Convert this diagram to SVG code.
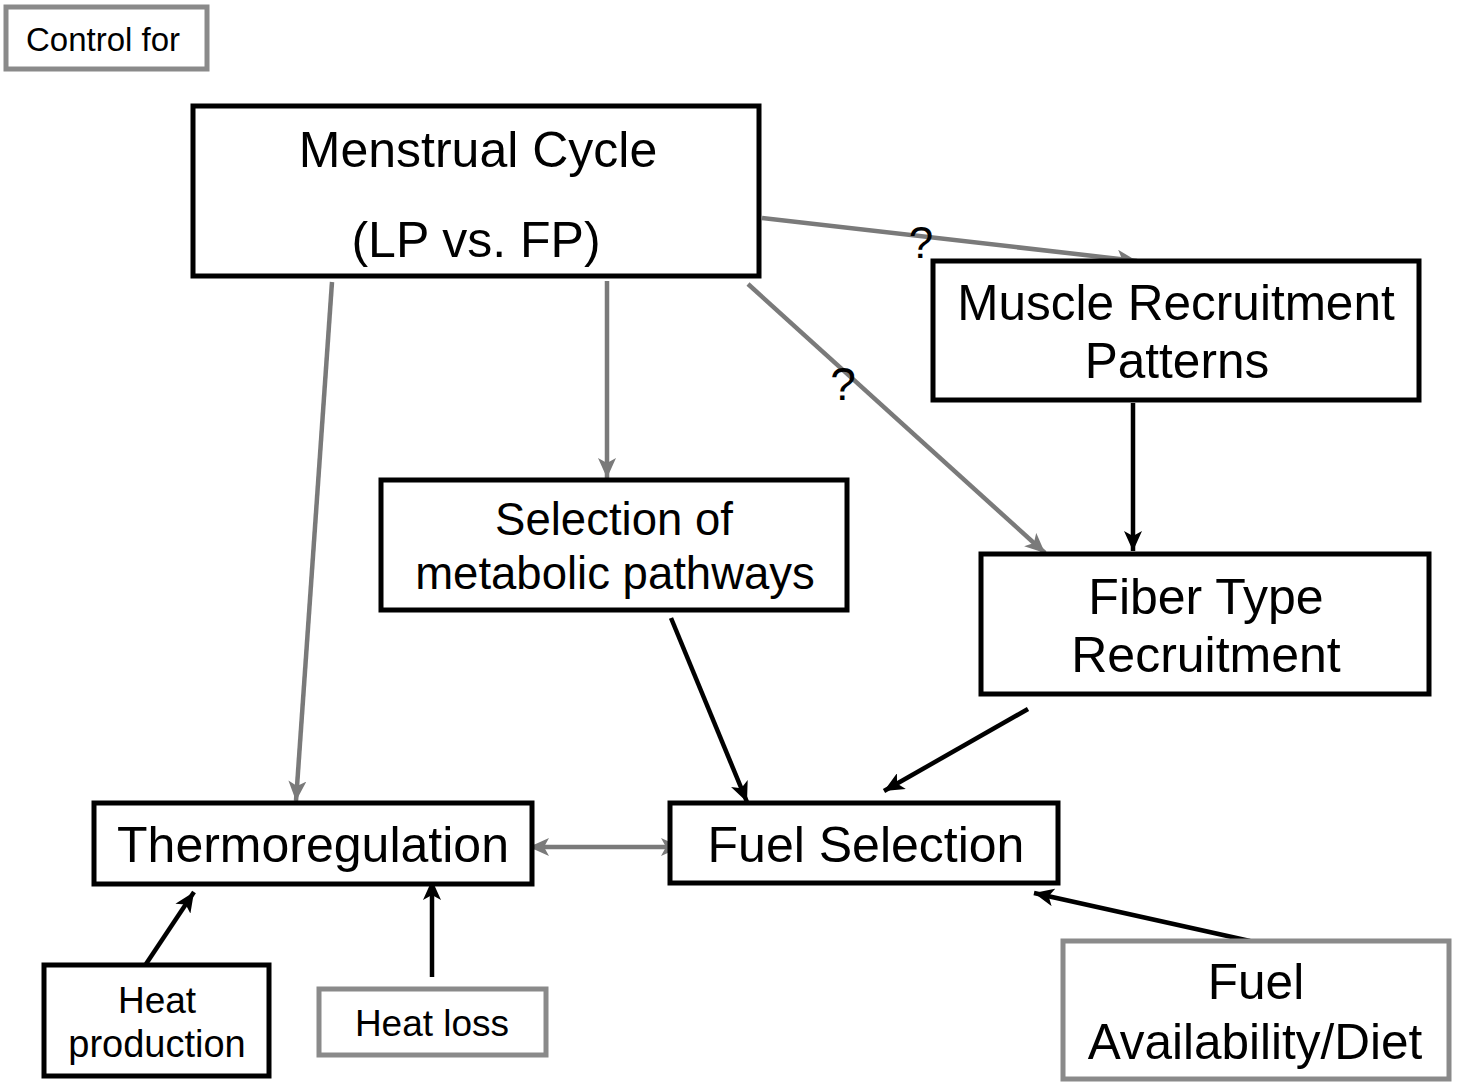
<svg xmlns="http://www.w3.org/2000/svg" width="1460" height="1082" viewBox="0 0 1460 1082">
<style>
text{font-family:"Liberation Sans",Arial,sans-serif;fill:#000;text-anchor:middle}
.bk{fill:#fff;stroke:#000;stroke-width:5}
.gy{fill:#fff;stroke:#8a8a8a;stroke-width:5}
.ab{stroke:#000;stroke-width:4.5;fill:none}
.ag{stroke:#7a7a7a;stroke-width:4.5;fill:none}
</style>
<defs>
<marker id="hb" markerUnits="userSpaceOnUse" markerWidth="22" markerHeight="18" refX="20" refY="9" orient="auto"><path d="M0,0 L20,9 L0,18 L5,9 z" fill="#000"/></marker>
<marker id="hg" markerUnits="userSpaceOnUse" markerWidth="22" markerHeight="18" refX="20" refY="9" orient="auto"><path d="M0,0 L20,9 L0,18 L5,9 z" fill="#7a7a7a"/></marker>
<marker id="hgs" markerUnits="userSpaceOnUse" markerWidth="22" markerHeight="18" refX="20" refY="9" orient="auto-start-reverse"><path d="M0,0 L20,9 L0,18 L5,9 z" fill="#7a7a7a"/></marker>
</defs>
<rect width="1460" height="1082" fill="#fff"/>
<g id="connectors">
<line class="ag" x1="762" y1="218" x2="1137" y2="261" marker-end="url(#hg)"/>
<line class="ag" x1="748" y1="284" x2="1045" y2="553" marker-end="url(#hg)"/>
<line class="ag" x1="607" y1="281" x2="607" y2="478" marker-end="url(#hg)"/>
<line class="ag" x1="332" y1="282" x2="296" y2="801" marker-end="url(#hg)"/>
<line class="ag" x1="529" y1="847" x2="681" y2="847" marker-start="url(#hgs)" marker-end="url(#hgs)"/>
<line class="ab" x1="1133" y1="403" x2="1133" y2="551" marker-end="url(#hb)"/>
<line class="ab" x1="671" y1="618" x2="747" y2="802" marker-end="url(#hb)"/>
<line class="ab" x1="1028" y1="709" x2="884" y2="791" marker-end="url(#hb)"/>
<line class="ab" x1="146" y1="964" x2="194" y2="892" marker-end="url(#hb)"/>
<line class="ab" x1="432" y1="977" x2="432" y2="880" marker-end="url(#hb)"/>
<line class="ab" x1="1250" y1="941" x2="1034" y2="893" stroke-width="5.5" marker-end="url(#hb)"/>
<text x="921" y="258" font-size="44">?</text>
<text x="843" y="400" font-size="46">?</text>
</g>
<g id="control-for"><rect class="gy" x="6" y="7" width="201" height="62"/><text x="103" y="51" font-size="33">Control for</text></g>
<g id="menstrual-cycle"><rect class="bk" x="193" y="106" width="566" height="170"/><text x="478" y="167" font-size="50">Menstrual Cycle</text><text x="476" y="257" font-size="50">(LP vs. FP)</text></g>
<g id="muscle-recruitment"><rect class="bk" x="933" y="261" width="486" height="139"/><text x="1176" y="320" font-size="49.5">Muscle Recruitment</text><text x="1177" y="378" font-size="49.5">Patterns</text></g>
<g id="selection-metabolic"><rect class="bk" x="381" y="480" width="466" height="130"/><text x="614" y="535" font-size="45.5">Selection of</text><text x="615" y="589" font-size="45.5">metabolic pathways</text></g>
<g id="fiber-type"><rect class="bk" x="981" y="554" width="448" height="140"/><text x="1206" y="614" font-size="50">Fiber Type</text><text x="1206" y="672" font-size="50">Recruitment</text></g>
<g id="thermoregulation"><rect class="bk" x="94" y="803" width="438" height="81"/><text x="313" y="862" font-size="50">Thermoregulation</text></g>
<g id="fuel-selection"><rect class="bk" x="670" y="803" width="388" height="80"/><text x="866" y="862" font-size="50">Fuel Selection</text></g>
<g id="heat-production"><rect class="bk" x="44" y="965" width="225" height="111"/><text x="157" y="1013" font-size="37">Heat</text><text x="157" y="1057" font-size="38">production</text></g>
<g id="heat-loss"><rect class="gy" x="319" y="989" width="227" height="66"/><text x="432" y="1036" font-size="37">Heat loss</text></g>
<g id="fuel-availability"><rect class="gy" x="1063" y="941" width="386" height="138"/><text x="1256" y="999" font-size="49.5">Fuel</text><text x="1255" y="1059" font-size="49.5">Availability/Diet</text></g>
</svg>
